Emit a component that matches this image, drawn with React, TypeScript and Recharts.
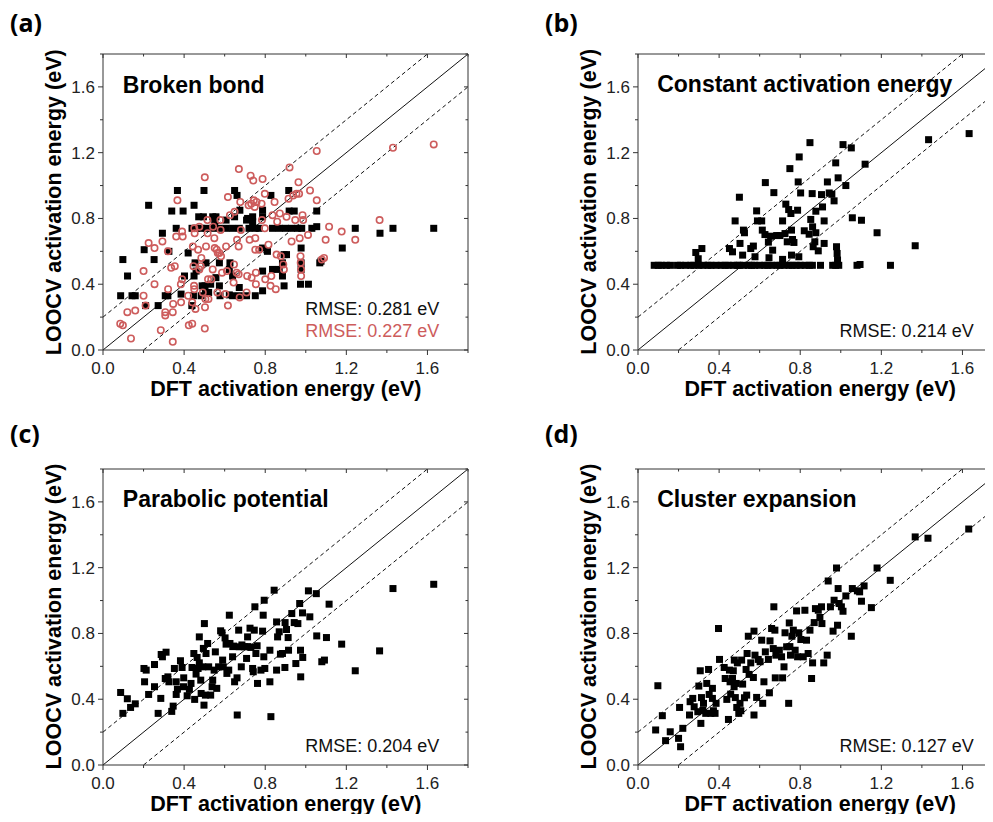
import React from "react";
import { ScatterChart, Scatter, XAxis, YAxis, ReferenceLine } from "recharts";

type Pt = [number, number];

// DFT (x) vs LOOCV (y) activation energies, eV
const brokenBondSquares: Pt[] = [
  [0.087, 0.33], [0.143, 0.33], [0.159, 0.33], [0.307, 0.33], [0.32, 0.33], [0.385, 0.34], [0.446, 0.33],
  [0.484, 0.33], [0.505, 0.35], [0.521, 0.35], [0.577, 0.33], [0.623, 0.335], [0.639, 0.33], [0.672, 0.33],
  [0.708, 0.33], [0.751, 0.33], [0.21, 0.27], [0.272, 0.27], [0.438, 0.27],
  [0.489, 0.39], [0.503, 0.39], [0.531, 0.4], [0.574, 0.39], [0.672, 0.38], [0.893, 0.39], [0.974, 0.4],
  [1.013, 0.4], [0.787, 0.36], [0.121, 0.45], [0.402, 0.45], [0.449, 0.45], [0.557, 0.44], [0.639, 0.45],
  [0.885, 0.45], [0.459, 0.48], [0.623, 0.49], [0.787, 0.48], [0.836, 0.49], [0.869, 0.49], [0.977, 0.49],
  [0.454, 0.53], [0.508, 0.53], [0.574, 0.53], [0.626, 0.53], [0.885, 0.53], [0.977, 0.53], [1.069, 0.53],
  [1.075, 0.54], [0.098, 0.55], [0.252, 0.55], [0.893, 0.58], [0.905, 0.58], [0.325, 0.6], [0.42, 0.59],
  [0.811, 0.6], [0.203, 0.61], [0.787, 0.62], [0.977, 0.62], [1.18, 0.62], [0.293, 0.71], [1.366, 0.71],
  [0.361, 0.74], [0.439, 0.74], [0.459, 0.74], [0.484, 0.74], [0.508, 0.74], [0.541, 0.74], [0.574, 0.74],
  [0.607, 0.74], [0.639, 0.74], [0.672, 0.74], [0.72, 0.74], [0.751, 0.74], [0.77, 0.74], [0.836, 0.74],
  [0.869, 0.74], [0.9, 0.74], [0.93, 0.74], [0.96, 0.74], [0.98, 0.74], [1.03, 0.74], [1.054, 0.75],
  [1.244, 0.74], [1.43, 0.74], [1.631, 0.74], [0.551, 0.78], [0.607, 0.79], [0.708, 0.79], [0.738, 0.78],
  [0.472, 0.81], [0.495, 0.81], [0.541, 0.81], [0.557, 0.81], [0.649, 0.81], [0.713, 0.8], [0.738, 0.81],
  [0.787, 0.81], [0.339, 0.845], [0.395, 0.845], [0.675, 0.85], [0.787, 0.85], [0.918, 0.845], [0.943, 0.845],
  [1.054, 0.845], [0.225, 0.88], [0.449, 0.88], [0.661, 0.94], [0.828, 0.94], [0.367, 0.97], [0.498, 0.97],
  [0.649, 0.97], [0.916, 0.97],
];

const brokenBondCircles: Pt[] = [
  [0.085, 0.16], [0.098, 0.15], [0.138, 0.07], [0.12, 0.23], [0.159, 0.24], [0.2, 0.48], [0.2, 0.33],
  [0.21, 0.27], [0.225, 0.65], [0.254, 0.62], [0.254, 0.4], [0.285, 0.12], [0.293, 0.66], [0.307, 0.23],
  [0.307, 0.21], [0.32, 0.6], [0.321, 0.37], [0.336, 0.5], [0.344, 0.05], [0.344, 0.23], [0.346, 0.28],
  [0.354, 0.51], [0.367, 0.91], [0.361, 0.69], [0.393, 0.69], [0.39, 0.72], [0.384, 0.4], [0.385, 0.29],
  [0.39, 0.43], [0.42, 0.33], [0.423, 0.15], [0.44, 0.16], [0.44, 0.29], [0.443, 0.63], [0.446, 0.51],
  [0.452, 0.71], [0.45, 0.74], [0.449, 0.39], [0.45, 0.37], [0.456, 0.25], [0.469, 0.61], [0.475, 0.75],
  [0.475, 0.49], [0.482, 0.51], [0.485, 0.56], [0.492, 0.35], [0.502, 1.05], [0.502, 0.13], [0.503, 0.26],
  [0.505, 0.31], [0.508, 0.63], [0.515, 0.79], [0.516, 0.71], [0.518, 0.43], [0.52, 0.31], [0.534, 0.43],
  [0.541, 0.49], [0.543, 0.75], [0.549, 0.68], [0.551, 0.62], [0.561, 0.61], [0.566, 0.59], [0.574, 0.59],
  [0.564, 0.35], [0.579, 0.79], [0.58, 0.73], [0.582, 0.57], [0.587, 0.47], [0.603, 0.34], [0.607, 0.63],
  [0.616, 0.27], [0.611, 0.48], [0.616, 0.93], [0.626, 0.82], [0.646, 0.52], [0.644, 0.41], [0.649, 0.84],
  [0.659, 0.47], [0.661, 0.67], [0.669, 0.63], [0.67, 1.1], [0.669, 0.46], [0.674, 0.32], [0.677, 0.9],
  [0.68, 0.73], [0.708, 0.35], [0.711, 0.45], [0.718, 0.88], [0.723, 0.67], [0.728, 1.06], [0.731, 0.89],
  [0.733, 0.44], [0.741, 1.03], [0.744, 0.91], [0.748, 0.87], [0.751, 0.68], [0.751, 0.61], [0.754, 0.4],
  [0.754, 0.47], [0.757, 0.9], [0.77, 0.61], [0.782, 0.89], [0.784, 0.79], [0.787, 1.04], [0.798, 0.74],
  [0.798, 0.95], [0.8, 0.43], [0.816, 0.64], [0.826, 0.39], [0.83, 0.45], [0.836, 0.82], [0.846, 0.9],
  [0.852, 0.37], [0.856, 0.58], [0.859, 0.78], [0.872, 0.83], [0.877, 0.57], [0.889, 0.52], [0.892, 0.49],
  [0.905, 0.81], [0.915, 0.92], [0.92, 1.11], [0.93, 0.66], [0.938, 0.94], [0.948, 0.79], [0.954, 0.95],
  [0.964, 1.02], [0.967, 0.95], [0.97, 0.68], [0.974, 0.57], [0.975, 0.53], [0.977, 0.49], [0.977, 0.45],
  [0.984, 0.82], [0.987, 0.79], [1.021, 0.97], [1.011, 0.7], [1.054, 0.91], [1.054, 1.21], [1.079, 0.55],
  [1.09, 0.56], [1.098, 0.67], [1.115, 0.75], [1.177, 0.72], [1.244, 0.67], [1.364, 0.79], [1.43, 1.23],
  [1.631, 1.25],
];

const constantSquares: Pt[] = [
  [0.08, 0.515], [0.1, 0.515], [0.115, 0.515], [0.14, 0.515], [0.16, 0.515], [0.195, 0.515], [0.21, 0.515],
  [0.235, 0.515], [0.26, 0.515], [0.275, 0.515], [0.3, 0.515], [0.32, 0.515], [0.345, 0.515], [0.36, 0.515],
  [0.385, 0.515], [0.41, 0.515], [0.43, 0.515], [0.445, 0.515], [0.47, 0.515], [0.49, 0.515], [0.5, 0.515],
  [0.52, 0.515], [0.545, 0.515], [0.56, 0.515], [0.575, 0.515], [0.6, 0.515], [0.625, 0.515], [0.64, 0.515],
  [0.66, 0.515], [0.685, 0.515], [0.7, 0.515], [0.72, 0.515], [0.745, 0.515], [0.76, 0.515], [0.78, 0.515],
  [0.8, 0.515], [0.825, 0.515], [0.845, 0.515], [0.86, 0.515], [0.9, 0.515], [0.96, 0.515], [0.975, 0.515],
  [0.99, 0.515], [1.08, 0.515], [1.095, 0.52], [1.245, 0.515],
  [0.285, 0.593], [0.315, 0.617], [0.297, 0.555], [0.451, 0.617], [0.466, 0.597], [0.479, 0.785],
  [0.5, 0.929], [0.503, 0.648], [0.52, 0.729], [0.525, 0.713], [0.516, 0.577], [0.556, 0.617], [0.569, 0.632],
  [0.577, 0.567], [0.585, 0.846], [0.589, 0.785], [0.61, 0.785], [0.613, 0.729], [0.626, 0.702], [0.628, 1.018],
  [0.643, 0.656], [0.646, 0.561], [0.654, 0.692], [0.664, 0.607], [0.67, 0.957], [0.684, 0.696], [0.7, 0.696],
  [0.713, 0.785], [0.713, 0.551], [0.725, 0.708], [0.729, 0.887], [0.736, 0.658], [0.743, 0.854], [0.749, 1.103],
  [0.754, 0.83], [0.757, 0.729], [0.757, 0.577], [0.762, 0.672], [0.769, 0.654], [0.787, 0.85], [0.79, 1.022],
  [0.793, 0.567], [0.795, 1.174], [0.802, 0.955], [0.82, 0.725], [0.844, 0.704], [0.848, 1.261], [0.852, 0.794],
  [0.859, 0.951], [0.861, 0.749], [0.864, 0.628], [0.872, 0.658], [0.877, 0.844], [0.877, 0.713], [0.889, 0.603],
  [0.905, 0.945], [0.91, 0.87], [0.918, 0.785], [0.918, 0.648], [0.934, 1.022], [0.943, 0.955], [0.956, 0.947],
  [0.967, 0.907], [0.975, 1.138], [0.979, 0.628], [0.982, 0.587], [0.987, 1.047], [0.984, 0.547], [1.011, 1.249],
  [1.025, 1.0], [1.052, 1.229], [1.057, 0.804], [1.102, 0.789], [1.12, 1.13], [1.179, 0.713], [1.367, 0.634],
  [1.433, 1.279], [1.633, 1.316],
];

const parabolicSquares: Pt[] = [
  [0.087, 0.441], [0.098, 0.314], [0.12, 0.403], [0.136, 0.35], [0.159, 0.372], [0.202, 0.587], [0.205, 0.506],
  [0.213, 0.577], [0.225, 0.429], [0.254, 0.611], [0.254, 0.476], [0.272, 0.314], [0.285, 0.405], [0.287, 0.672],
  [0.293, 0.658], [0.311, 0.686], [0.307, 0.526], [0.32, 0.536], [0.325, 0.506], [0.339, 0.326], [0.346, 0.358],
  [0.352, 0.587], [0.361, 0.506], [0.361, 0.429], [0.367, 0.461], [0.382, 0.634], [0.39, 0.593], [0.397, 0.476],
  [0.398, 0.53], [0.415, 0.421], [0.426, 0.46], [0.434, 0.496], [0.439, 0.593], [0.448, 0.678], [0.452, 0.399],
  [0.459, 0.553], [0.464, 0.654], [0.469, 0.587], [0.475, 0.779], [0.475, 0.621], [0.482, 0.516], [0.484, 0.435],
  [0.492, 0.597], [0.495, 0.709], [0.5, 0.86], [0.498, 0.364], [0.505, 0.425], [0.508, 0.678], [0.516, 0.739],
  [0.521, 0.597], [0.531, 0.425], [0.538, 0.476], [0.541, 0.516], [0.548, 0.577], [0.554, 0.688], [0.561, 0.466],
  [0.57, 0.597], [0.58, 0.816], [0.587, 0.804], [0.59, 0.638], [0.593, 0.597], [0.602, 0.773], [0.611, 0.557],
  [0.62, 0.577], [0.623, 0.911], [0.626, 0.739], [0.639, 0.658], [0.644, 0.723], [0.649, 0.506], [0.662, 0.304],
  [0.661, 0.53], [0.669, 0.82], [0.672, 0.719], [0.682, 0.597], [0.697, 0.719], [0.708, 0.648], [0.713, 0.779],
  [0.725, 0.832], [0.729, 0.715], [0.738, 0.587], [0.741, 0.567], [0.746, 0.82], [0.749, 0.962], [0.754, 0.678],
  [0.762, 0.496], [0.779, 0.577], [0.787, 0.814], [0.79, 0.911], [0.793, 0.658], [0.795, 1.002], [0.798, 0.587],
  [0.823, 0.506], [0.823, 0.698], [0.828, 0.294], [0.844, 1.063], [0.856, 0.87], [0.856, 0.577], [0.861, 0.779],
  [0.869, 0.81], [0.875, 0.674], [0.885, 0.678], [0.897, 0.593], [0.898, 0.866], [0.905, 0.824], [0.913, 0.775],
  [0.915, 0.698], [0.931, 0.921], [0.943, 0.866], [0.951, 0.617], [0.961, 0.86], [0.97, 0.982], [0.974, 0.698],
  [0.975, 0.536], [0.984, 0.925], [0.985, 0.654], [1.013, 1.059], [1.02, 0.901], [1.052, 1.042], [1.054, 0.785],
  [1.079, 0.628], [1.092, 0.638], [1.102, 0.775], [1.115, 0.978], [1.177, 0.735], [1.244, 0.573], [1.364, 0.694],
  [1.43, 1.073], [1.631, 1.099], [0.607, 0.735], [0.64, 0.72], [0.685, 0.73], [0.715, 0.72], [0.76, 0.725],
];

const clusterSquares: Pt[] = [
  [0.087, 0.213], [0.098, 0.482], [0.12, 0.3], [0.136, 0.148], [0.159, 0.202], [0.2, 0.162], [0.205, 0.35],
  [0.21, 0.111], [0.221, 0.223], [0.254, 0.304], [0.257, 0.385], [0.27, 0.405], [0.277, 0.354], [0.295, 0.324],
  [0.3, 0.48], [0.307, 0.573], [0.31, 0.253], [0.313, 0.41], [0.32, 0.332], [0.323, 0.375], [0.334, 0.314],
  [0.339, 0.496], [0.348, 0.581], [0.351, 0.429], [0.359, 0.314], [0.367, 0.405], [0.367, 0.466], [0.372, 0.33],
  [0.38, 0.314], [0.385, 0.375], [0.397, 0.83], [0.402, 0.642], [0.425, 0.593], [0.43, 0.526], [0.438, 0.399],
  [0.446, 0.277], [0.451, 0.577], [0.454, 0.506], [0.457, 0.431], [0.466, 0.526], [0.47, 0.573], [0.474, 0.476],
  [0.475, 0.638], [0.48, 0.41], [0.484, 0.496], [0.487, 0.35], [0.49, 0.621], [0.497, 0.314], [0.503, 0.375],
  [0.507, 0.33], [0.511, 0.638], [0.516, 0.492], [0.525, 0.409], [0.533, 0.581], [0.536, 0.425], [0.538, 0.678],
  [0.544, 0.783], [0.548, 0.551], [0.556, 0.621], [0.569, 0.532], [0.572, 0.814], [0.572, 0.304], [0.577, 0.668],
  [0.585, 0.411], [0.593, 0.642], [0.602, 0.628], [0.61, 0.759], [0.615, 0.375], [0.621, 0.506], [0.628, 0.688],
  [0.643, 0.642], [0.648, 0.439], [0.651, 0.755], [0.659, 0.83], [0.667, 0.708], [0.67, 0.962], [0.675, 0.82],
  [0.677, 0.53], [0.68, 0.668], [0.697, 0.698], [0.708, 0.658], [0.713, 0.53], [0.72, 0.597], [0.725, 0.804],
  [0.733, 0.719], [0.743, 0.375], [0.746, 0.864], [0.749, 0.72], [0.752, 0.668], [0.759, 0.783], [0.766, 0.82],
  [0.775, 0.698], [0.782, 0.937], [0.787, 0.658], [0.793, 0.804], [0.803, 0.763], [0.815, 0.658], [0.823, 0.941],
  [0.831, 0.759], [0.839, 0.678], [0.848, 0.82], [0.856, 0.526], [0.861, 0.621], [0.869, 0.866], [0.875, 0.951],
  [0.889, 0.941], [0.897, 0.897], [0.905, 0.962], [0.907, 0.86], [0.916, 0.621], [0.933, 0.668], [0.938, 1.119],
  [0.949, 0.962], [0.962, 0.814], [0.967, 1.002], [0.979, 1.198], [0.984, 0.85], [0.987, 1.073], [0.992, 0.982],
  [1.003, 0.962], [1.011, 0.935], [1.025, 1.028], [1.052, 0.783], [1.057, 1.073], [1.082, 1.059], [1.093, 1.053],
  [1.102, 0.996], [1.115, 1.089], [1.151, 0.957], [1.179, 1.198], [1.244, 1.123], [1.367, 1.387], [1.43, 1.379],
  [1.631, 1.435],
];

const majorTicks = [0, 0.4, 0.8, 1.2, 1.6];
const allTicks = [0, 0.2, 0.4, 0.6, 0.8, 1.0, 1.2, 1.4, 1.6, 1.8];

const AXIS = "#333";
const RED = "#cd5c5c";
const FONT = "'Liberation Sans', Arial, sans-serif";
const PW = 365;
const PH = 296;
const ML = 100, MT = 54, MR = 20, MB = 60;

const isMajor = (v: number) => majorTicks.some((t) => Math.abs(t - v) < 1e-6);
const toPts = (a: Pt[]) => a.map(([x, y]) => ({ x, y }));

const BottomTick = (p: any) => {
  const v = p.payload.value;
  const big = isMajor(v);
  return (
    <g>
      <line x1={p.x} x2={p.x} y1={p.y} y2={p.y + (big ? 5 : 3)} stroke={AXIS} />
      {big && (
        <text x={p.x} y={p.y + 24} textAnchor="middle" fontSize={17} fontFamily={FONT} fill="#222">
          {v.toFixed(1)}
        </text>
      )}
    </g>
  );
};

const LeftTick = (p: any) => {
  const v = p.payload.value;
  const big = isMajor(v);
  return (
    <g>
      <line x1={p.x - (big ? 5 : 3)} x2={p.x} y1={p.y} y2={p.y} stroke={AXIS} />
      {big && (
        <text x={p.x - 8} y={p.y + 6} textAnchor="end" fontSize={17} fontFamily={FONT} fill="#222">
          {v.toFixed(1)}
        </text>
      )}
    </g>
  );
};

const TopTick = (p: any) => (
  <line x1={p.x} x2={p.x} y1={p.y} y2={p.y + (isMajor(p.payload.value) ? 4 : 2.5)} stroke={AXIS} />
);

const RightTick = (p: any) => (
  <line x1={p.x - (isMajor(p.payload.value) ? 4 : 2.5)} x2={p.x} y1={p.y} y2={p.y} stroke={AXIS} />
);

const SquareShape = (p: any) => <rect x={p.cx - 3.5} y={p.cy - 3.5} width={7} height={7} fill="#000" />;
const CircleShape = (p: any) => <circle cx={p.cx} cy={p.cy} r={3.2} fill="none" stroke={RED} strokeWidth={1.6} />;

type PanelDef = {
  left: number;
  top: number;
  label: Pt;
  tag: string;
  title: string;
  squares: Pt[];
  circles?: Pt[];
  rmse: string[];
};

const panels: PanelDef[] = [
  { left: 103.3, top: 54.3, label: [10, 31.5], tag: "(a)", title: "Broken bond", squares: brokenBondSquares, circles: brokenBondCircles, rmse: ["RMSE: 0.281 eV", "RMSE: 0.227 eV"] },
  { left: 637.7, top: 53.8, label: [545, 31.5], tag: "(b)", title: "Constant activation energy", squares: constantSquares, rmse: ["RMSE: 0.214 eV"] },
  { left: 103.3, top: 468.5, label: [10, 442.5], tag: "(c)", title: "Parabolic potential", squares: parabolicSquares, rmse: ["RMSE: 0.204 eV"] },
  { left: 637.7, top: 468.5, label: [545, 442.5], tag: "(d)", title: "Cluster expansion", squares: clusterSquares, rmse: ["RMSE: 0.127 eV"] },
];

function Panel({ d }: { d: PanelDef }) {
  return (
    <div style={{ position: "absolute", left: d.left - ML, top: d.top - MT }}>
      <ScatterChart
        width={ML + PW + MR}
        height={MT + PH + MB}
        margin={{ top: MT - 4, left: ML - 40, right: MR - 4, bottom: MB - 30 }}
      >
        <XAxis dataKey="x" type="number" domain={[0, 1.8]} ticks={allTicks} interval={0} height={30}
          tick={BottomTick} tickLine={false} tickSize={0} tickMargin={0} stroke={AXIS} allowDataOverflow />
        <XAxis xAxisId="t" orientation="top" dataKey="x" type="number" domain={[0, 1.8]} ticks={allTicks} interval={0}
          height={4} tick={TopTick} tickLine={false} tickSize={0} tickMargin={0} stroke={AXIS} allowDataOverflow />
        <YAxis dataKey="y" type="number" domain={[0, 1.8]} ticks={allTicks} interval={0} width={40}
          tick={LeftTick} tickLine={false} tickSize={0} tickMargin={0} stroke={AXIS} allowDataOverflow />
        <YAxis yAxisId="r" orientation="right" dataKey="y" type="number" domain={[0, 1.8]} ticks={allTicks} interval={0}
          width={4} tick={RightTick} tickLine={false} tickSize={0} tickMargin={0} stroke={AXIS} allowDataOverflow />
        <ReferenceLine segment={[{ x: 0, y: 0 }, { x: 1.8, y: 1.8 }]} stroke="#111" strokeWidth={1} />
        <ReferenceLine segment={[{ x: 0, y: 0.2 }, { x: 1.6, y: 1.8 }]} stroke="#111" strokeWidth={1} strokeDasharray="4 3" />
        <ReferenceLine segment={[{ x: 0.2, y: 0 }, { x: 1.8, y: 1.6 }]} stroke="#111" strokeWidth={1} strokeDasharray="4 3" />
        <Scatter data={toPts(d.squares)} shape={SquareShape} isAnimationActive={false} />
        {d.circles && <Scatter data={toPts(d.circles)} shape={CircleShape} isAnimationActive={false} />}
        <Scatter xAxisId="t" yAxisId="r" data={[]} isAnimationActive={false} />
      </ScatterChart>
    </div>
  );
}

function PanelText({ d }: { d: PanelDef }) {
  const bottom = d.top + PH;
  const right = d.left + PW;
  return (
    <g fontFamily={FONT}>
      <text x={d.label[0]} y={d.label[1]} fontSize={25} fontWeight="bold" fontFamily="'Open Sans', Lato, sans-serif" fill="#000">
        {d.tag}
      </text>
      <text
        transform={`translate(${d.left - 42}, ${d.top + PH / 2}) rotate(-90)`}
        textAnchor="middle" fontSize={21.5} fontWeight="bold" fill="#000"
      >
        LOOCV activation energy (eV)
      </text>
      <text x={d.left + PW / 2} y={bottom + 46} textAnchor="middle" fontSize={21.5} fontWeight="bold" fill="#000">
        DFT activation energy (eV)
      </text>
      <text x={d.left + 19.5} y={d.top + 38.5} fontSize={23} fontWeight="bold" fill="#000">
        {d.title}
      </text>
      {d.rmse.map((s, i) => (
        <text
          key={s}
          x={right - 29}
          y={bottom - 13 - (d.rmse.length - 1 - i) * 22}
          textAnchor="end" fontSize={18} fill={i === 1 ? RED : "#111"}
        >
          {s}
        </text>
      ))}
    </g>
  );
}

export default function App() {
  return (
    <div style={{ position: "relative", width: 993, height: 822, margin: -8, overflow: "hidden", background: "#fff" }}>
      {panels.map((d) => (
        <Panel key={d.tag} d={d} />
      ))}
      <svg width={993} height={822} style={{ position: "absolute", left: 0, top: 0, pointerEvents: "none" }}>
        {panels.map((d) => (
          <PanelText key={d.tag} d={d} />
        ))}
      </svg>
    </div>
  );
}
